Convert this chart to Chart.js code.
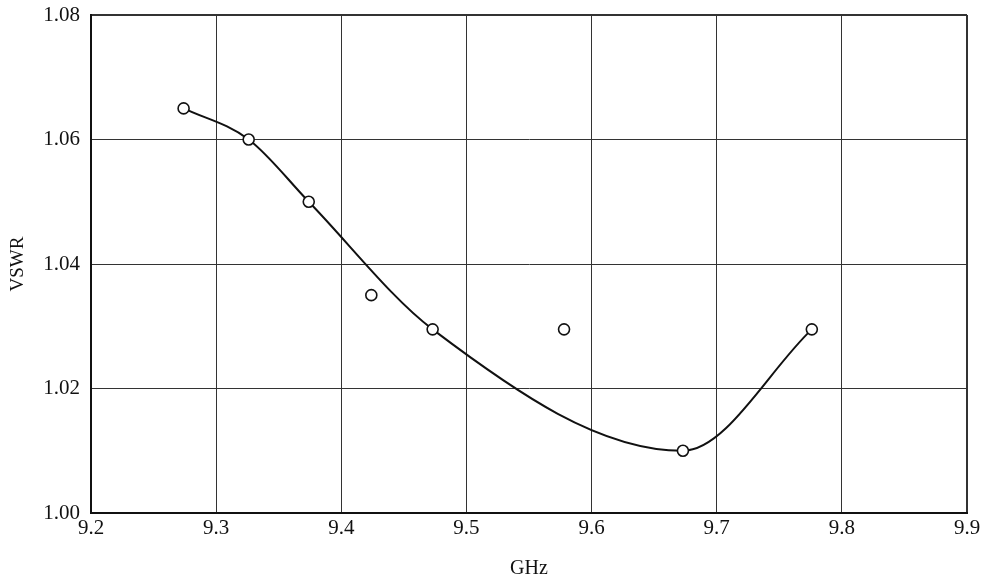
<!DOCTYPE html>
<html>
<head>
<meta charset="utf-8">
<script src="https://cdn.jsdelivr.net/npm/chart.js@4.4.1/dist/chart.umd.min.js"></script>
<style>
  html, body { margin:0; padding:0; background:#fff; }
  #wrap { width:991px; height:581px; }
</style>
</head>
<body>
<div id="wrap"><canvas id="vswrChart"></canvas></div>
<script>
const ink = "#111";
const fontFamily = "'Liberation Serif', 'Times New Roman', serif";

// measured points (open circles)
const freqGHz = [9.274, 9.326, 9.374, 9.424, 9.473, 9.578, 9.673, 9.776];
const vswr    = [1.065, 1.060, 1.050, 1.035, 1.0295, 1.0295, 1.010, 1.0295];

// points the fitted curve runs through
const curveGHz  = [9.274, 9.326, 9.374, 9.473, 9.673, 9.776];
const curveVswr = [1.065, 1.060, 1.050, 1.0295, 1.010, 1.0295];

const xTicks = [9.2, 9.3, 9.4, 9.5, 9.6, 9.7, 9.8, 9.9];
const yTicks = [1.00, 1.02, 1.04, 1.06, 1.08];

const edgeWidth = (axisMax) => (ctx) => (ctx.tick && Math.abs(ctx.tick.value - axisMax) < 1e-9 ? 2 : 1);

new Chart(document.getElementById("vswrChart"), {
  type: "scatter",
  data: {
    datasets: [
      {
        data: curveGHz.map((x, i) => ({ x, y: curveVswr[i] })),
        showLine: true,
        borderColor: ink,
        borderWidth: 2,
        cubicInterpolationMode: "monotone",
        pointRadius: 0,
        order: 2
      },
      {
        data: freqGHz.map((x, i) => ({ x, y: vswr[i] })),
        pointRadius: 5.5,
        pointBorderWidth: 1.6,
        pointBorderColor: ink,
        pointBackgroundColor: "#fff",
        order: 1
      }
    ]
  },
  options: {
    responsive: true,
    maintainAspectRatio: false,
    animation: false,
    layout: { padding: { left: 0, right: 24, top: 15, bottom: 0 } },
    plugins: { legend: { display: false }, tooltip: { enabled: false } },
    scales: {
      x: {
        type: "linear",
        min: 9.2, max: 9.9,
        afterBuildTicks: (s) => { s.ticks = xTicks.map(v => ({ value: v })); },
        afterFit: (s) => { s.height = 68; s.paddingLeft = 0; s.paddingRight = 0; },
        ticks: {
          color: ink, padding: 3,
          font: { family: fontFamily, size: 21 },
          callback: (v) => xTicks.find(t => Math.abs(t - v) < 1e-9).toFixed(1)
        },
        grid: { color: "#333", lineWidth: edgeWidth(9.9), drawTicks: false },
        border: { color: ink, width: 2 },
        title: {
          display: true, text: "GHz", color: ink, padding: { top: 8, bottom: 0 },
          font: { family: fontFamily, size: 20 }
        }
      },
      y: {
        min: 1.00, max: 1.08,
        afterBuildTicks: (s) => { s.ticks = yTicks.map(v => ({ value: v })); },
        afterFit: (s) => { s.width = 91; s.paddingTop = 0; s.paddingBottom = 0; },
        ticks: {
          color: ink, padding: 11,
          font: { family: fontFamily, size: 21 },
          callback: (v) => yTicks.find(t => Math.abs(t - v) < 1e-9).toFixed(2)
        },
        grid: { color: "#333", lineWidth: edgeWidth(1.08), drawTicks: false },
        border: { color: ink, width: 2 },
        title: {
          display: true, text: "VSWR", color: ink, padding: { top: 7, bottom: 0 },
          font: { family: fontFamily, size: 19 }
        }
      }
    }
  }
});
</script>
</body>
</html>
